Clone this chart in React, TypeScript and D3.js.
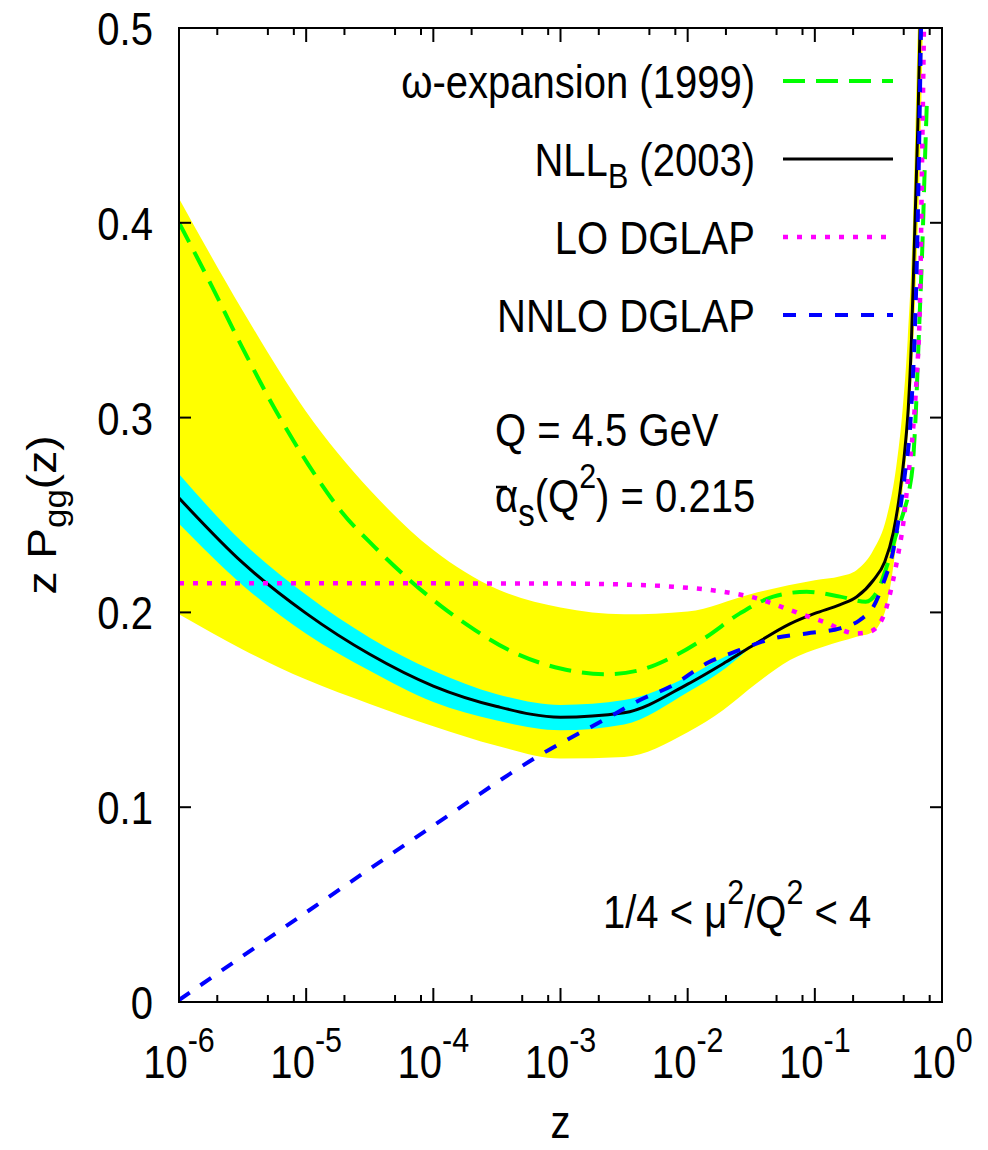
import React from 'react';
import * as d3 from 'd3';

// ---------- data (log10 z, z*Pgg) ----------
const nllbLogZ = [-6, -5.5, -5, -4.5, -4, -3.5, -3, -2.5, -2, -1.7, -1.5, -1.2, -1, -0.8, -0.67, -0.54, -0.45, -0.383, -0.33, -0.29, -0.265, -0.24, -0.2125, -0.19, -0.173, -0.155];
const nllbVal = [0.2587, 0.2255, 0.1995, 0.1785, 0.1622, 0.1517, 0.1462, 0.1485, 0.1632, 0.1745, 0.1825, 0.194, 0.1995, 0.204, 0.208, 0.2165, 0.226, 0.241, 0.262, 0.285, 0.305, 0.34, 0.4, 0.45, 0.5, 0.55];

const cyanLogZ = [-6, -5.5, -5, -4.5, -4, -3.5, -3, -2.5, -2, -1.7, -1.55];
const cyanUpper = [0.271, 0.236, 0.209, 0.187, 0.17, 0.158, 0.1525, 0.155, 0.167, 0.1775, 0.1812];
const cyanLower = [0.2455, 0.214, 0.189, 0.17, 0.154, 0.1445, 0.1395, 0.1425, 0.159, 0.1715, 0.1795];

const yellowUpperLogZ = [-6, -5.5, -5, -4.5, -4, -3.5, -3, -2.5, -2, -1.5, -1, -0.8, -0.67, -0.54, -0.435, -0.36, -0.31, -0.27, -0.228, -0.19, -0.165];
const yellowUpperVal = [0.4125, 0.355, 0.303, 0.263, 0.232, 0.212, 0.2025, 0.199, 0.2005, 0.2095, 0.2165, 0.2185, 0.2218, 0.232, 0.249, 0.2748, 0.304, 0.34, 0.4, 0.5, 0.56];
const yellowLowerLogZ = [-6, -5.5, -5, -4.5, -4, -3.5, -3, -2.5, -2, -1.72, -1.457, -1.195, -0.933, -0.671, -0.54, -0.487, -0.43, -0.38, -0.33, -0.278, -0.24, -0.2, -0.17, -0.15, -0.13];
const yellowLowerVal = [0.199, 0.181, 0.1655, 0.153, 0.1415, 0.1315, 0.125, 0.1258, 0.1385, 0.1499, 0.1636, 0.1756, 0.1824, 0.1875, 0.1901, 0.1944, 0.205, 0.225, 0.252, 0.2834, 0.32, 0.38, 0.44, 0.5, 0.56];

const omegaLogZ = [-6, -5.769, -5.507, -5.245, -4.983, -4.721, -4.459, -4.197, -3.934, -3.672, -3.41, -3.0, -2.64, -2.375, -2.113, -1.85, -1.589, -1.327, -1.064, -0.802, -0.6, -0.5, -0.435, -0.36, -0.3, -0.26, -0.226, -0.207, -0.181, -0.155, -0.135, -0.12];
const omegaVal = [0.4, 0.371, 0.3366, 0.3043, 0.2759, 0.2516, 0.2334, 0.2172, 0.203, 0.1909, 0.1808, 0.1712, 0.1683, 0.1704, 0.1773, 0.1875, 0.1995, 0.2081, 0.2106, 0.2081, 0.2055, 0.212, 0.2235, 0.24, 0.252, 0.262, 0.279, 0.301, 0.344, 0.387, 0.43, 0.46];

const loLogZ = [-6, -3, -2.5, -2.113, -1.72, -1.457, -1.195, -0.933, -0.671, -0.566, -0.462, -0.383, -0.344, -0.3, -0.265, -0.23, -0.2, -0.173, -0.155, -0.142, -0.13];
const loVal = [0.215, 0.2148, 0.2143, 0.2132, 0.2106, 0.2072, 0.2012, 0.1952, 0.1892, 0.1901, 0.1978, 0.217, 0.23, 0.248, 0.27, 0.292, 0.32, 0.36, 0.44, 0.5, 0.56];

const nnloLogZ = [-6, -5, -4, -3.161, -2.637, -2.375, -2.113, -1.85, -1.589, -1.327, -1.064, -0.802, -0.645, -0.54, -0.462, -0.383, -0.33, -0.29, -0.246, -0.191, -0.165, -0.15];
const nnloVal = [0.001, 0.046, 0.0905, 0.1268, 0.1456, 0.155, 0.1627, 0.1739, 0.1807, 0.1867, 0.1892, 0.1918, 0.1961, 0.2029, 0.2149, 0.232, 0.2526, 0.272, 0.3, 0.4, 0.5, 0.56];

const xMajorExps = [-6, -5, -4, -3, -2, -1, 0];
const xMinorMult = [2, 5, 8];
const yTicks = [0, 0.1, 0.2, 0.3, 0.4, 0.5];
const yTickLabels = ['0', '0.1', '0.2', '0.3', '0.4', '0.5'];

const legendLabels = ['ω-expansion (1999)', 'NLL', 'LO DGLAP', 'NNLO DGLAP'];

// ---------- layout ----------
const W = 988, H = 1150;
const L = 179, R = 942, T = 28, B = 1002;
const SX = 0.87;
const FS = 46;
const SUB = 35;
const FONT = "'Liberation Sans', Arial, Helvetica, sans-serif";

const x = d3.scaleLog().domain([1e-6, 1]).range([L, R]);
const y = d3.scaleLinear().domain([0, 0.5]).range([B, T]);

const line = d3.line<[number, number]>()
  .x(d => x(Math.pow(10, d[0])))
  .y(d => y(d[1]))
  .curve(d3.curveMonotoneX);

const pts = (lz: number[], v: number[]) => lz.map((l, i) => [l, v[i]] as [number, number]);

const band = (lzU: number[], vU: number[], lzL: number[], vL: number[]) => {
  const up = line(pts(lzU, vU)) || '';
  const lo = line(pts(lzL, vL).reverse()) || '';
  return up + 'L' + lo.slice(1) + 'Z';
};

const styles = [
  { stroke: '#00ff00', width: 4, dash: '22 11' },
  { stroke: '#000000', width: 3, dash: 'none' },
  { stroke: '#ff00ff', width: 4.5, dash: '5 9' },
  { stroke: '#0000ff', width: 4, dash: '13 13' },
];

const Txt = (p: { x: number; y: number; anchor?: string; size?: number; children: React.ReactNode; rot?: number }) => (
  <text
    transform={`translate(${p.x},${p.y}) scale(${SX},1)${p.rot ? ` rotate(${p.rot})` : ''}`}
    textAnchor={p.anchor || 'start'}
    fontSize={p.size || FS}
    fontFamily={FONT}
    fill="#000"
  >
    {p.children}
  </text>
);

export default function App() {
  const series = [
    pts(omegaLogZ, omegaVal),
    pts(nllbLogZ, nllbVal),
    pts(loLogZ, loVal),
    pts(nnloLogZ, nnloVal),
  ];
  const legendY = [81, 159, 237, 315];

  const minorTicks: number[] = [];
  xMajorExps.slice(0, -1).forEach(e => xMinorMult.forEach(m => minorTicks.push(m * Math.pow(10, e))));

  return (
    <div style={{ position: 'absolute', left: 0, top: 0 }}>
      <svg width={W} height={H} viewBox={`0 0 ${W} ${H}`} style={{ display: 'block', background: '#fff' }}>
        <defs>
          <clipPath id="plot">
            <rect x={L} y={T} width={R - L} height={B - T} />
          </clipPath>
        </defs>
        <rect x={0} y={0} width={W} height={H} fill="#fff" />
        <g clipPath="url(#plot)">
          <path d={band(yellowUpperLogZ, yellowUpperVal, yellowLowerLogZ, yellowLowerVal)} fill="#ffff00" stroke="none" />
          <path d={band(cyanLogZ, cyanUpper, cyanLogZ, cyanLower)} fill="#00ffff" stroke="none" />
          {series.map((s, i) => (
            <path key={i} d={line(s) || ''} fill="none" stroke={styles[i].stroke}
              strokeWidth={styles[i].width} strokeDasharray={styles[i].dash} />
          ))}
        </g>

        {/* frame */}
        <rect x={L} y={T} width={R - L} height={B - T} fill="none" stroke="#000" strokeWidth={2} />

        {/* x ticks */}
        {xMajorExps.map(e => {
          const px = x(Math.pow(10, e));
          return (
            <g key={'xM' + e}>
              <line x1={px} x2={px} y1={B} y2={B - 14} stroke="#000" strokeWidth={2} />
              <line x1={px} x2={px} y1={T} y2={T + 14} stroke="#000" strokeWidth={2} />
              <Txt x={px} y={1078} anchor="middle">10<tspan dy={-26} fontSize={SUB}>{String(e)}</tspan></Txt>
            </g>
          );
        })}
        {minorTicks.map((t, i) => {
          const px = x(t);
          return (
            <g key={'xm' + i}>
              <line x1={px} x2={px} y1={B} y2={B - 7} stroke="#000" strokeWidth={2} />
              <line x1={px} x2={px} y1={T} y2={T + 7} stroke="#000" strokeWidth={2} />
            </g>
          );
        })}

        {/* y ticks */}
        {yTicks.map((t, i) => {
          const py = y(t);
          return (
            <g key={'y' + i}>
              <line x1={L} x2={L + 12} y1={py} y2={py} stroke="#000" strokeWidth={2} />
              <line x1={R} x2={R - 12} y1={py} y2={py} stroke="#000" strokeWidth={2} />
              <Txt x={153} y={py + 17} anchor="end">{yTickLabels[i]}</Txt>
            </g>
          );
        })}

        {/* axis titles */}
        <Txt x={(L + R) / 2} y={1138} anchor="middle">z</Txt>
        <Txt x={56} y={(T + B) / 2} anchor="middle" rot={-90}>
          z P<tspan dy={11} fontSize={SUB}>gg</tspan><tspan dy={-11}>(z)</tspan>
        </Txt>

        {/* legend */}
        {legendLabels.map((lab, i) => (
          <g key={'lg' + i}>
            <Txt x={755} y={legendY[i] + 17} anchor="end">
              {i === 1 ? (<>{lab}<tspan dy={12} fontSize={SUB}>B</tspan><tspan dy={-12}> (2003)</tspan></>) : lab}
            </Txt>
            <line x1={783} x2={893} y1={legendY[i]} y2={legendY[i]} stroke={styles[i].stroke}
              strokeWidth={styles[i].width} strokeDasharray={styles[i].dash} />
          </g>
        ))}

        {/* annotations */}
        <Txt x={495} y={446}>Q = 4.5 GeV</Txt>
        <Txt x={495} y={512}>
          α<tspan dy={14} fontSize={38}>s</tspan><tspan dy={-14}>(Q</tspan><tspan dy={-24} fontSize={SUB}>2</tspan><tspan dy={24}>) = 0.215</tspan>
        </Txt>
        <line x1={496} x2={507} y1={487} y2={487} stroke="#000" strokeWidth={2.5} />
        <Txt x={603} y={928}>
          1/4 &lt; μ<tspan dy={-24} fontSize={SUB}>2</tspan><tspan dy={24}>/Q</tspan><tspan dy={-24} fontSize={SUB}>2</tspan><tspan dy={24}> &lt; 4</tspan>
        </Txt>
      </svg>
    </div>
  );
}
